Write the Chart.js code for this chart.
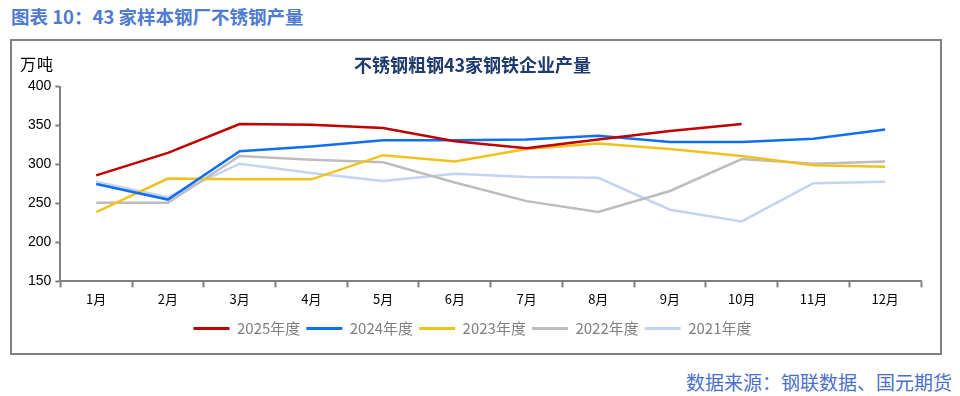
<!DOCTYPE html>
<html>
<head>
<meta charset="utf-8">
<script src="https://cdn.jsdelivr.net/npm/chart.js@4.4.1/dist/chart.umd.min.js"></script>
<style>
  body { margin: 0; background: #fff; width: 960px; height: 396px; position: relative; overflow: hidden; font-family: "Noto Sans CJK SC", sans-serif; }
  #head { position: absolute; left: 11px; top: 3px; font-size: 18.5px; font-weight: bold; color: #4f7bd0; }
  #box { position: absolute; left: 10px; top: 39px; width: 928px; height: 312px; border: 2px solid #808080; }
  #unit { position: absolute; left: 8px; top: 10px; font-size: 16px; letter-spacing: 1px; color: #000; }
  #wrap { position: absolute; left: 0; top: 0; width: 928px; height: 312px; }
  #foot { position: absolute; right: 8px; top: 368px; font-size: 19px; color: #4a6fc8; }
</style>
</head>
<body>
<div id="head">图表 10：43 家样本钢厂不锈钢产量</div>
<div id="box">
  <div id="wrap"><canvas id="chart"></canvas></div>
  <div id="unit">万吨</div>
</div>
<div id="foot">数据来源：钢联数据、国元期货</div>
<script>
const months = ['1月', '2月', '3月', '4月', '5月', '6月', '7月', '8月', '9月', '10月', '11月', '12月'];
const y2025 = [286, 315, 352, 351, 347, 330, 321, 332, 343, 352];
const y2024 = [275, 255, 317, 323, 331, 331, 332, 337, 329, 329, 333, 345];
const y2023 = [239, 282, 281, 281, 312, 304, 320, 327, 320, 311, 299, 297];
const y2022 = [251, 251, 311, 306, 303, 277, 253, 239, 266, 307, 301, 304];
const y2021 = [278, 258, 301, 289, 279, 288, 284, 283, 242, 227, 276, 278];

const mk = (label, data, color) => ({
  label, data,
  borderColor: color, backgroundColor: color,
  borderWidth: 2.5, pointRadius: 0, tension: 0
});

new Chart(document.getElementById('chart'), {
  type: 'line',
  data: {
    labels: months,
    datasets: [
      mk('2025年度', y2025, '#c00000'),
      mk('2024年度', y2024, '#0f6ff0'),
      mk('2023年度', y2023, '#f0c21c'),
      mk('2022年度', y2022, '#bdbdbd'),
      mk('2021年度', y2021, '#c4d2f4')
    ]
  },
  options: {
    responsive: true,
    maintainAspectRatio: false,
    animation: false,
    layout: { padding: { left: 12, right: 19, top: 0, bottom: 7 } },
    plugins: {
      title: {
        display: true,
        text: '不锈钢粗钢43家钢铁企业产量',
        color: '#1f3a6e',
        font: { family: 'Noto Sans CJK SC', size: 18, weight: 'bold' },
        padding: { top: 13, bottom: 11 }
      },
      legend: {
        position: 'bottom',
        labels: {
          color: '#808080',
          font: { family: 'Noto Sans CJK SC', size: 15 },
          boxWidth: 36, boxHeight: 3, padding: 6,
          generateLabels(chart) {
            return chart.data.datasets.map((ds, i) => ({
              text: ds.label, fillStyle: ds.borderColor, strokeStyle: ds.borderColor,
              lineWidth: 0, datasetIndex: i, hidden: false, fontColor: '#808080'
            }));
          }
        }
      },
      tooltip: { enabled: false }
    },
    scales: {
      x: {
        offset: true,
        afterFit(scale) { scale.height += 4; },
        grid: { offset: true, drawOnChartArea: false, color: '#808080', tickLength: 6, tickWidth: 2 },
        border: { color: '#808080', width: 2 },
        ticks: { color: '#000', font: { family: 'Noto Sans CJK SC', size: 13 }, padding: 4 }
      },
      y: {
        min: 150, max: 400,
        ticks: { stepSize: 50, color: '#000', font: { family: 'Liberation Sans', size: 14 }, padding: 4 },
        grid: { drawOnChartArea: false, color: '#808080', tickLength: 5, tickWidth: 2 },
        border: { color: '#808080', width: 2 }
      }
    }
  }
});
</script>
</body>
</html>
